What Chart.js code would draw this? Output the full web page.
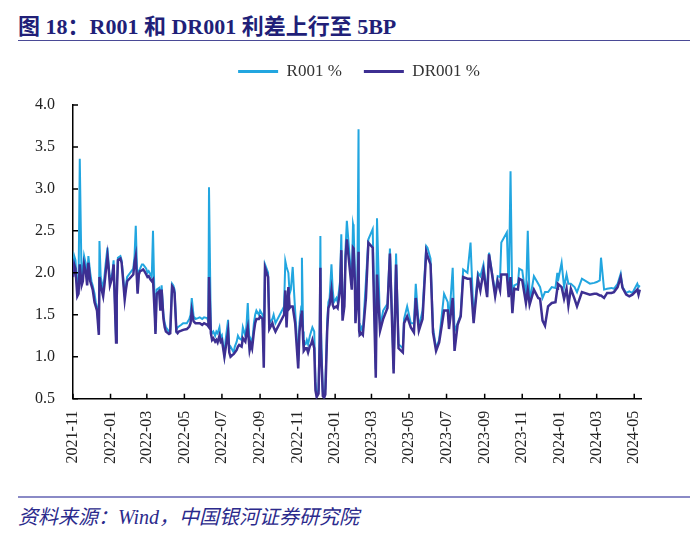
<!DOCTYPE html>
<html>
<head>
<meta charset="utf-8">
<script src="https://cdn.jsdelivr.net/npm/chart.js@4.4.1/dist/chart.umd.min.js"></script>
<style>
  body { margin: 0; background: #fff; width: 700px; height: 539px; position: relative; overflow: hidden; }
  #title { position: absolute; left: 18px; top: 8px; font: bold 22px "Liberation Serif", "Noto Sans CJK SC", serif; color: #211f78; white-space: nowrap; }
  #titleLine { position: absolute; left: 18px; top: 40px; width: 672px; height: 1px; background: #4a4a96; }
  #wrap { position: absolute; left: 0; top: 40px; width: 700px; height: 447px; }
  #footLine { position: absolute; left: 18px; top: 496px; width: 672px; height: 2px; background: #8a8ac6; }
  #source { position: absolute; left: 18px; top: 501px; font: italic 20px "Liberation Serif", "Noto Sans CJK SC", serif; color: #2b2a8c; white-space: nowrap; }
</style>
</head>
<body>
<div id="title">图 18：R001 和 DR001 利差上行至 5BP</div>
<div id="titleLine"></div>
<div id="wrap"><canvas id="rateChart" width="700" height="447"></canvas></div>
<div id="footLine"></div>
<div id="source">资料来源：Wind，中国银河证券研究院</div>

<script>
// x-axis tick labels (every two months)
const tickLabels = ['2021-11', '2022-01', '2022-03', '2022-05', '2022-07', '2022-09', '2022-11',
    '2023-01', '2023-03', '2023-05', '2023-07', '2023-09', '2023-11', '2024-01', '2024-03', '2024-05'];

const dates = [
    '2021-11-01','2021-11-03','2021-11-05','2021-11-08','2021-11-10','2021-11-12','2021-11-15','2021-11-17','2021-11-19','2021-11-22','2021-11-24','2021-11-26','2021-11-29',
    '2021-12-01','2021-12-03','2021-12-06','2021-12-08','2021-12-10','2021-12-13','2021-12-14','2021-12-16','2021-12-20','2021-12-22','2021-12-24','2021-12-27','2021-12-29','2021-12-31',
    '2022-01-04','2022-01-06','2022-01-10','2022-01-11','2022-01-13','2022-01-17','2022-01-19','2022-01-21','2022-01-24','2022-01-26','2022-01-28',
    '2022-02-07','2022-02-09','2022-02-11','2022-02-14','2022-02-16','2022-02-18','2022-02-21','2022-02-23','2022-02-25','2022-02-28',
    '2022-03-02','2022-03-04','2022-03-07','2022-03-09','2022-03-11','2022-03-14','2022-03-15','2022-03-17','2022-03-21','2022-03-23','2022-03-25','2022-03-28','2022-03-30',
    '2022-04-01','2022-04-06','2022-04-08','2022-04-11','2022-04-13','2022-04-15','2022-04-18','2022-04-20','2022-04-22','2022-04-26','2022-04-29',
    '2022-05-05','2022-05-09','2022-05-11','2022-05-13','2022-05-16','2022-05-19','2022-05-23','2022-05-26','2022-05-30',
    '2022-06-02','2022-06-07','2022-06-09','2022-06-10','2022-06-13','2022-06-15','2022-06-17','2022-06-20','2022-06-22','2022-06-24','2022-06-27','2022-06-29',
    '2022-07-01','2022-07-05','2022-07-07','2022-07-11','2022-07-13','2022-07-15','2022-07-18','2022-07-20','2022-07-22','2022-07-25','2022-07-27','2022-07-29',
    '2022-08-02','2022-08-04','2022-08-08','2022-08-10','2022-08-12','2022-08-15','2022-08-17','2022-08-19','2022-08-22','2022-08-24','2022-08-26','2022-08-30',
    '2022-09-01','2022-09-05','2022-09-07','2022-09-09','2022-09-14','2022-09-16','2022-09-21','2022-09-23','2022-09-26',
    '2022-10-10','2022-10-12','2022-10-14','2022-10-17','2022-10-19','2022-10-21','2022-10-24','2022-10-26','2022-10-28',
    '2022-11-02','2022-11-04','2022-11-07','2022-11-08','2022-11-10','2022-11-11','2022-11-14','2022-11-16','2022-11-18','2022-11-21','2022-11-23','2022-11-25','2022-11-28','2022-11-30',
    '2022-12-02','2022-12-05','2022-12-07','2022-12-08','2022-12-09','2022-12-12','2022-12-14','2022-12-16','2022-12-19','2022-12-21','2022-12-23','2022-12-26','2022-12-28','2022-12-30',
    '2023-01-03','2023-01-05','2023-01-09','2023-01-11','2023-01-13','2023-01-16','2023-01-18','2023-01-20','2023-01-28','2023-01-30','2023-01-31',
    '2023-02-02','2023-02-03','2023-02-06','2023-02-08','2023-02-09','2023-02-10','2023-02-13','2023-02-15','2023-02-20','2023-02-24',
    '2023-03-03','2023-03-08','2023-03-10','2023-03-15','2023-03-20','2023-03-27','2023-03-31',
    '2023-04-06','2023-04-10','2023-04-14','2023-04-21','2023-04-23','2023-04-28',
    '2023-05-04','2023-05-09','2023-05-12','2023-05-17','2023-05-23','2023-05-29','2023-05-31',
    '2023-06-05','2023-06-09','2023-06-14','2023-06-19','2023-06-27',
    '2023-07-03','2023-07-05','2023-07-11','2023-07-14','2023-07-19','2023-07-24','2023-07-28',
    '2023-08-04','2023-08-09','2023-08-14','2023-08-21','2023-08-25','2023-08-30',
    '2023-09-05','2023-09-08','2023-09-13','2023-09-18','2023-09-22','2023-09-26','2023-09-28',
    '2023-10-07','2023-10-10','2023-10-13','2023-10-16','2023-10-19','2023-10-25','2023-10-27',
    '2023-11-01','2023-11-07','2023-11-10','2023-11-13','2023-11-20','2023-11-27','2023-11-30',
    '2023-12-04','2023-12-08','2023-12-13','2023-12-19','2023-12-25','2023-12-28','2023-12-29',
    '2024-01-04','2024-01-08','2024-01-12','2024-01-15','2024-01-19','2024-01-25','2024-01-29',
    '2024-02-06','2024-02-19','2024-02-26',
    '2024-03-01','2024-03-06','2024-03-08','2024-03-13','2024-03-18','2024-03-25','2024-03-29',
    '2024-04-04','2024-04-09','2024-04-12','2024-04-18','2024-04-23','2024-04-28',
    '2024-05-06','2024-05-08','2024-05-10'
];

const r001 = [
    2.00,2.20,2.15,1.80,1.85,3.36,1.90,2.00,2.20,2.10,1.90,2.20,2.00,
    1.90,1.85,1.75,1.65,1.60,1.30,2.38,1.95,1.80,1.95,2.10,2.30,2.10,1.90,
    2.00,2.15,1.20,1.80,2.18,2.20,2.15,2.00,1.72,1.85,1.95,
    2.05,2.20,2.56,1.78,2.02,2.05,2.10,2.10,2.08,2.05,
    2.00,2.02,1.98,1.95,2.50,1.50,1.30,1.80,1.82,1.60,1.85,1.50,1.40,
    1.35,1.30,1.32,1.87,1.85,1.80,1.32,1.35,1.36,1.38,1.40,
    1.40,1.45,1.50,1.70,1.48,1.45,1.46,1.47,1.45,
    1.47,1.46,1.42,3.02,1.32,1.28,1.30,1.25,1.30,1.28,1.35,1.22,
    1.25,1.02,1.20,1.44,1.10,1.12,1.08,1.05,1.12,1.18,1.25,1.22,
    1.20,1.35,1.25,1.38,1.64,1.12,1.20,1.15,1.40,1.50,1.55,1.50,
    1.55,1.50,1.05,2.10,2.00,1.40,1.45,1.50,1.40,
    1.60,2.14,2.07,2.00,1.75,1.80,2.07,1.80,1.55,
    0.95,1.40,1.60,2.18,1.30,1.15,1.15,1.20,1.15,1.25,1.30,1.35,1.30,0.70,
    0.55,0.60,1.40,2.44,1.30,0.58,0.55,0.62,1.40,1.65,1.70,2.10,1.80,1.65,
    1.70,1.65,1.90,2.46,1.50,1.70,2.30,2.62,1.87,2.58,2.54,
    2.00,1.43,1.80,3.71,1.40,1.30,1.35,1.30,1.90,2.40,
    2.52,0.85,2.65,1.35,1.55,1.63,2.29,
    0.85,2.23,1.15,1.10,1.45,1.60,
    1.40,1.40,1.87,1.35,1.55,2.32,2.30,
    2.17,1.35,1.10,1.20,1.75,
    1.65,1.40,2.06,1.30,1.40,1.50,2.04,
    2.00,2.36,1.45,2.00,1.96,2.10,
    1.75,2.24,2.00,1.75,1.96,1.95,2.36,
    2.48,1.75,3.21,1.55,1.85,1.87,2.05,
    2.03,1.70,2.50,1.65,1.96,1.87,1.83,
    1.70,1.77,1.77,1.83,1.82,2.00,1.90,
    2.12,1.83,1.98,1.87,1.87,1.83,1.77,
    1.93,1.87,1.88,
    1.89,1.91,2.18,1.80,1.81,1.82,1.81,
    1.87,1.99,1.83,1.76,1.78,1.76,
    1.87,1.83,1.85
];

const dr001 = [
    1.95,2.10,2.05,1.72,1.75,2.10,1.85,1.90,2.10,2.00,1.85,2.12,1.90,
    1.85,1.80,1.65,1.60,1.55,1.26,1.95,1.85,1.72,1.85,2.00,2.20,2.05,1.85,
    1.95,2.10,1.17,1.70,2.15,2.17,2.12,1.95,1.68,1.80,1.90,
    1.98,2.12,2.20,1.75,1.98,2.02,2.03,2.04,2.02,1.98,
    1.95,1.96,1.92,1.90,1.92,1.48,1.27,1.75,1.78,1.55,1.80,1.45,1.35,
    1.30,1.27,1.28,1.84,1.82,1.76,1.30,1.28,1.30,1.31,1.32,
    1.33,1.36,1.40,1.55,1.42,1.40,1.40,1.40,1.38,
    1.40,1.38,1.36,1.95,1.28,1.20,1.22,1.18,1.20,1.17,1.25,1.18,
    1.20,1.00,1.10,1.30,1.05,1.00,1.02,1.03,1.05,1.08,1.12,1.14,
    1.12,1.22,1.18,1.28,1.35,1.08,1.15,1.10,1.30,1.40,1.45,1.45,
    1.48,1.45,0.87,2.06,1.95,1.33,1.40,1.35,1.30,
    1.50,1.79,1.35,1.83,1.58,1.60,1.60,1.50,1.40,
    0.86,1.30,1.50,1.55,1.20,1.07,1.10,1.10,1.05,1.13,1.15,1.20,1.10,0.60,
    0.52,0.56,1.20,2.06,1.10,0.53,0.51,0.55,1.30,1.58,1.62,1.79,1.62,1.58,
    1.60,1.58,1.80,2.27,1.43,1.60,2.20,2.40,1.80,2.30,2.29,
    1.90,1.40,1.70,2.25,1.31,1.26,1.28,1.26,1.70,2.36,
    2.30,0.75,1.98,1.31,1.45,1.58,2.23,
    0.80,2.10,1.10,1.05,1.40,1.48,
    1.35,1.29,1.70,1.31,1.45,2.25,2.20,
    2.10,1.29,1.07,1.17,1.55,
    1.55,1.33,1.70,1.07,1.38,1.48,1.95,
    1.93,1.93,1.40,1.93,1.79,2.02,
    1.71,2.22,1.98,1.72,1.90,1.79,1.98,
    1.98,1.71,1.95,1.52,1.81,1.80,1.93,
    1.91,1.64,1.80,1.62,1.80,1.70,1.69,
    1.43,1.37,1.60,1.64,1.65,1.81,1.87,
    1.83,1.69,1.81,1.61,1.81,1.69,1.60,
    1.77,1.74,1.75,
    1.75,1.73,1.73,1.70,1.76,1.76,1.77,
    1.83,1.95,1.82,1.74,1.72,1.74,
    1.80,1.74,1.80
];

const xMin = '2021-11-01';
const xMax = '2024-05-12';

const toPoints = (vals) => vals.map((v, i) => ({ x: Date.parse(dates[i]), y: v }));

// extra gap under the legend, and nudge it to the right
const legendTweak = {
    id: 'legendTweak',
    beforeInit(chart) {
        const fit = chart.legend.fit;
        chart.legend.fit = function () {
            fit.bind(chart.legend)();
            this.height += 15;
        };
    },
    afterLayout(chart) {
        chart.legend.left += 30;
        chart.legend.right += 30;
    }
};

// inward tick marks on both axes
const innerTicks = {
    id: 'innerTicks',
    afterDraw(chart) {
        const { ctx, chartArea, scales } = chart;
        ctx.save();
        ctx.strokeStyle = '#000';
        ctx.lineWidth = 1.5;
        ctx.beginPath();
        scales.x.ticks.forEach(t => {
            const px = scales.x.getPixelForValue(t.value);
            ctx.moveTo(px, chartArea.bottom);
            ctx.lineTo(px, chartArea.bottom - 5);
        });
        scales.y.ticks.forEach(t => {
            const py = scales.y.getPixelForValue(t.value);
            ctx.moveTo(chartArea.left, py);
            ctx.lineTo(chartArea.left + 5, py);
        });
        ctx.stroke();
        ctx.restore();
    }
};

const serif = '"Liberation Serif", "Times New Roman", serif';

new Chart(document.getElementById('rateChart'), {
    type: 'line',
    data: {
        datasets: [
            {
                label: 'R001 %',
                data: toPoints(r001),
                borderColor: '#22a6e0',
                backgroundColor: '#22a6e0',
                borderWidth: 2,
                pointRadius: 0,
                tension: 0,
                order: 1
            },
            {
                label: 'DR001 %',
                data: toPoints(dr001),
                borderColor: '#3d2f92',
                backgroundColor: '#3d2f92',
                borderWidth: 2.5,
                pointRadius: 0,
                tension: 0,
                order: 0
            }
        ]
    },
    options: {
        responsive: false,
        animation: false,
        layout: { padding: { top: 1, left: 17, right: 59, bottom: 11 } },
        plugins: {
            legend: {
                position: 'top',
                labels: {
                    font: { family: serif, size: 17 },
                    color: '#333',
                    boxWidth: 40,
                    boxHeight: 3,
                    padding: 22,
                    sort: (a, b) => a.datasetIndex - b.datasetIndex,
                    generateLabels(chart) {
                        const items = Chart.defaults.plugins.legend.labels.generateLabels(chart);
                        items.forEach(it => { it.lineWidth = 0; });
                        return items;
                    }
                }
            },
            tooltip: { enabled: false }
        },
        scales: {
            x: {
                type: 'linear',
                min: Date.parse(xMin),
                max: Date.parse(xMax),
                afterBuildTicks(scale) {
                    scale.ticks = tickLabels.map(l => ({ value: Date.parse(l + '-01') }));
                },
                ticks: {
                    autoSkip: false,
                    minRotation: 90,
                    maxRotation: 90,
                    padding: 12,
                    color: '#222',
                    font: { family: serif, size: 16 },
                    callback: (value, index) => tickLabels[index]
                },
                grid: { drawOnChartArea: false, drawTicks: false },
                border: { color: '#000', width: 1.5 }
            },
            y: {
                min: 0.5,
                max: 4.0,
                ticks: {
                    stepSize: 0.5,
                    padding: 18,
                    color: '#222',
                    font: { family: serif, size: 16 },
                    callback: v => v.toFixed(1)
                },
                grid: { drawOnChartArea: false, drawTicks: false },
                border: { color: '#000', width: 1.5 }
            }
        }
    },
    plugins: [legendTweak, innerTicks]
});
</script>
</body>
</html>
